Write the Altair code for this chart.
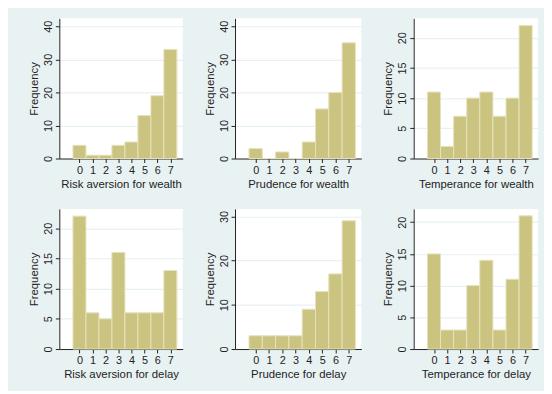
import altair as alt
import pandas as pd

values = [0, 1, 2, 3, 4, 5, 6, 7]

risk_wealth = [4, 1, 1, 4, 5, 13, 19, 33]
prud_wealth = [3, 0, 2, 0, 5, 15, 20, 35]
temp_wealth = [11, 2, 7, 10, 11, 7, 10, 22]
risk_delay = [22, 6, 5, 16, 6, 6, 6, 13]
prud_delay = [3, 3, 3, 3, 9, 13, 17, 29]
temp_delay = [15, 3, 3, 10, 14, 3, 11, 21]

titles = [
    "Risk aversion for wealth", "Prudence for wealth", "Temperance for wealth",
    "Risk aversion for delay", "Prudence for delay", "Temperance for delay",
]
series = [risk_wealth, prud_wealth, temp_wealth, risk_delay, prud_delay, temp_delay]
y_max = [42.4, 42.4, 23.2, 23.2, 31.7, 22.1]
y_ticks = [
    [0, 10, 20, 30, 40], [0, 10, 20, 30, 40], [0, 5, 10, 15, 20],
    [0, 5, 10, 15, 20], [0, 10, 20, 30], [0, 5, 10, 15, 20],
]
widths = [125, 128, 126, 125, 128, 126]

BAR = "#cbc480"
BG = "#e9f2f3"
FONT = "Liberation Sans"

panels = []
for title, counts, ymax, yt, w in zip(titles, series, y_max, y_ticks, widths):
    df = pd.DataFrame({
        "v": values,
        "lo": [v - 0.5 for v in values],
        "hi": [v + 0.5 for v in values],
        "n": counts,
        "z": [0] * len(values),
    })
    ch = alt.Chart(df).mark_bar(color=BAR, stroke="#e6e2bd", strokeWidth=1).encode(
        x=alt.X("lo:Q", scale=alt.Scale(domain=[-1.55, 7.95], nice=False, zero=False),
                axis=alt.Axis(title=title, values=values, grid=False, domain=True)),
        x2="hi:Q",
        y=alt.Y("n:Q", scale=alt.Scale(domain=[0, ymax], nice=False),
                axis=alt.Axis(title="Frequency", values=yt, grid=True, labelAngle=270,
                              labelAlign="center", labelBaseline="bottom", domain=True)),
        y2="z:Q",
    ).properties(width=w, height=142, view=alt.ViewBackground(fill="white", stroke=None))
    panels.append(ch)

chart = alt.concat(*panels, columns=3, spacing={"row": 19, "column": 22}).properties(
    background=BG,
    padding={"left": 21, "top": 8, "right": 6, "bottom": 8},
).configure_view(
    fill="white", stroke=None,
).configure_axis(
    labelFont=FONT, titleFont=FONT, labelFontSize=11, titleFontSize=11.5,
    labelColor="#222", titleColor="#222", titleFontWeight="normal",
    domainColor="#222", tickColor="#222", tickSize=4,
    gridColor="#e8f1f2", gridWidth=1.2, labelPadding=2, titlePadding=3,
)

chart.save("out.html", embed_options={"renderer": "svg", "actions": False})
